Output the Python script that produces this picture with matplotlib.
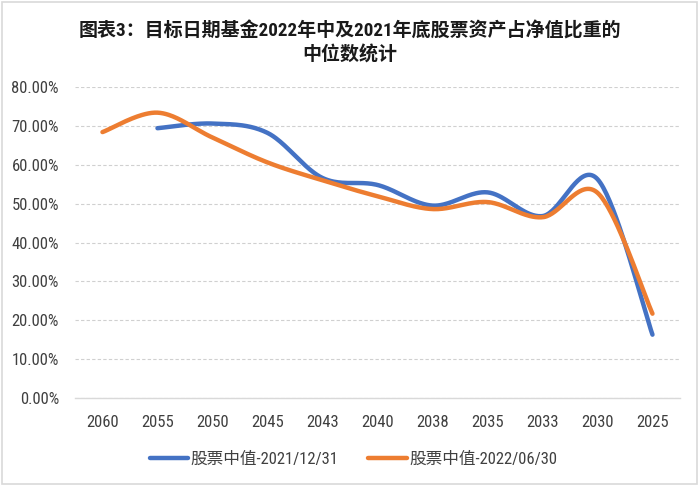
import numpy as np
import matplotlib
matplotlib.use('Agg')
import matplotlib.pyplot as plt
from matplotlib.patches import Rectangle

plt.rcParams['font.family'] = ['Roboto Condensed', 'Noto Sans CJK SC', 'DejaVu Sans']

years = ['2060', '2055', '2050', '2045', '2043', '2040', '2038', '2035', '2033', '2030', '2025']
# median equity share, % of net asset value
stock_2021 = [np.nan, 69.4, 70.6, 68.2, 56.6, 54.8, 49.5, 52.9, 46.8, 56.3, 16.3]
stock_2022 = [68.4, 73.4, 67.0, 60.6, 56.0, 51.9, 48.6, 50.4, 46.5, 52.8, 21.7]
label_2021 = '股票中值-2021/12/31'
label_2022 = '股票中值-2022/06/30'


# excel-style smoothed line (bezier, control points from neighbours / 6)
def smooth(xs, ys, sx=55.0, sy=3.875, n=40):
    px = np.array(xs, float) * sx
    py = np.array(ys, float) * sy
    out_x, out_y = [], []
    for i in range(len(px) - 1):
        p0 = (px[i - 1], py[i - 1]) if i > 0 else (px[i], py[i])
        p1 = (px[i], py[i])
        p2 = (px[i + 1], py[i + 1])
        p3 = (px[i + 2], py[i + 2]) if i + 2 < len(px) else (px[i + 1], py[i + 1])
        c1 = (p1[0] + (p2[0] - p0[0]) / 6, p1[1] + (p2[1] - p0[1]) / 6)
        c2 = (p2[0] - (p3[0] - p1[0]) / 6, p2[1] - (p3[1] - p1[1]) / 6)
        t = np.linspace(0, 1, n)
        bx = (1-t)**3*p1[0] + 3*(1-t)**2*t*c1[0] + 3*(1-t)*t**2*c2[0] + t**3*p2[0]
        by = (1-t)**3*p1[1] + 3*(1-t)**2*t*c1[1] + 3*(1-t)*t**2*c2[1] + t**3*p2[1]
        out_x.extend(bx)
        out_y.extend(by)
    return np.array(out_x) / sx, np.array(out_y) / sy


fig = plt.figure(figsize=(7, 4.86), dpi=100)
ax = fig.add_axes([0.1071, 0.181, 0.8643, 0.64])

x = np.arange(len(years))
for vals, col, lab in [(stock_2021, '#4472C4', label_2021), (stock_2022, '#ED7D31', label_2022)]:
    v = np.array(vals)
    m = ~np.isnan(v)
    sx, sy = smooth(x[m], v[m])
    ax.plot(sx, sy, color=col, lw=3.2, solid_capstyle='round', label=lab)

ax.set_xlim(-0.5, len(years) - 0.5)
ax.set_ylim(0, 80)
ax.set_yticks(np.arange(0, 81, 10))
ax.set_yticklabels(['%.2f%%' % v for v in np.arange(0, 81, 10)], fontsize=12, color='#404040')
ax.set_xticks(x)
ax.set_xticklabels(years, fontsize=12, color='#404040')
ax.tick_params(axis='y', length=0, pad=11.5)
ax.tick_params(axis='x', length=0, pad=12)
ax.grid(axis='y', color='#D0D0D0', ls=(0, (3, 2)), lw=0.8)
for s in ['top', 'right', 'left']:
    ax.spines[s].set_visible(False)
ax.spines['bottom'].set_color('#D9D9D9')
ax.spines['bottom'].set_linewidth(1.0)
ax.set_axisbelow(True)

fig.text(0.5, 0.937, '图表3：目标日期基金2022年中及2021年底股票资产占净值比重的',
         ha='center', va='center', fontsize=13.7, fontweight='bold', color='#1a1a1a')
fig.text(0.5, 0.886, '中位数统计', ha='center', va='center', fontsize=13.7,
         fontweight='bold', color='#1a1a1a')

leg = fig.legend(loc='center', bbox_to_anchor=(0.505, 0.055), ncol=2, frameon=False,
                 fontsize=12, handlelength=2.3, handletextpad=0.15, columnspacing=1.8)
for t in leg.get_texts():
    t.set_color('#404040')

fig.patches.append(Rectangle((0.003, 0.004), 0.993, 0.992, transform=fig.transFigure,
                             fill=False, edgecolor='#D9D9D9', lw=1.2))

fig.savefig('out.png', dpi=100)
